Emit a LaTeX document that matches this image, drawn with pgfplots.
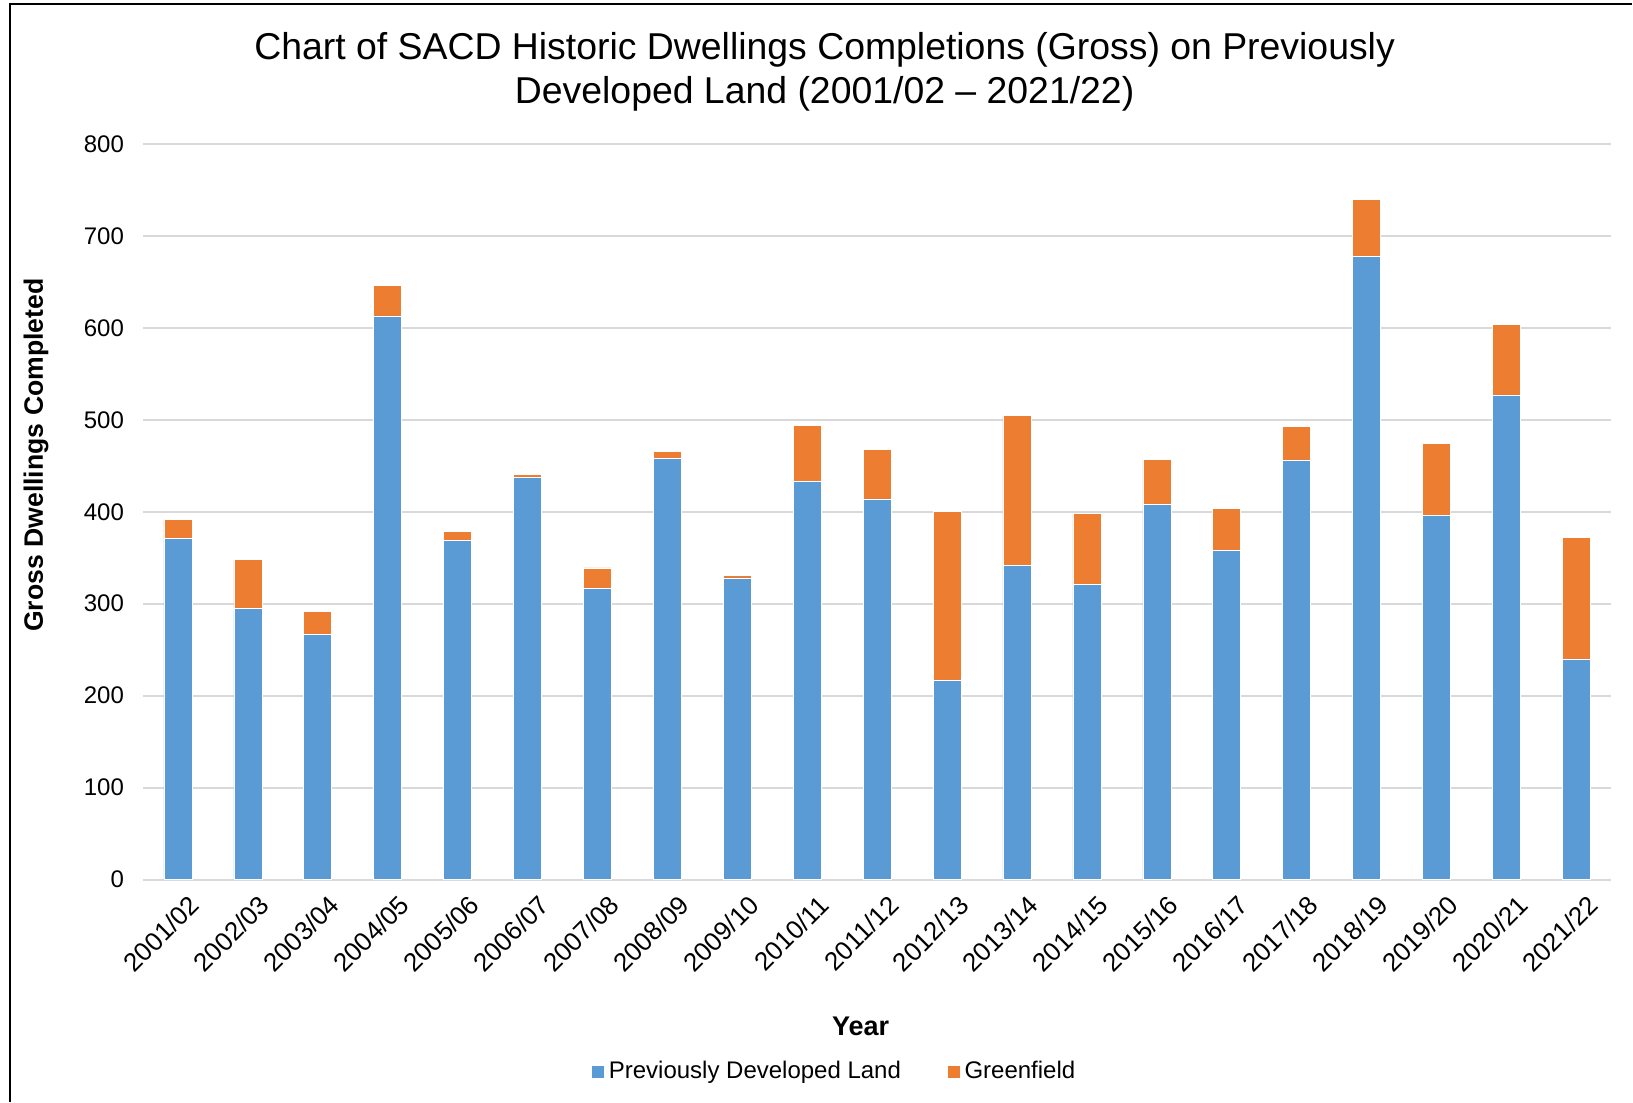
\documentclass[border=0pt]{standalone}
\usepackage{fontspec}
\setmainfont{Liberation Sans}
\usepackage{pgfplots}
\pgfplotsset{compat=1.18}
\definecolor{pdl}{HTML}{5B9BD5}
\definecolor{gf}{HTML}{ED7D31}
\definecolor{gridc}{HTML}{D9D9D9}
\begin{document}
\begin{tikzpicture}
\path (0pt,0pt) rectangle (816.5pt,551pt);
\draw[black, line width=0.7pt] (5pt,0pt) -- (5pt,549pt) -- (816.5pt,549pt);
\node[align=center, font=\fontsize{18.7}{22}\selectfont] at (412.5pt,515pt)
  {Chart of SACD Historic Dwellings Completions (Gross) on Previously\\Developed Land (2001/02 -- 2021/22)};
\begin{axis}[
  at={(71.5pt,111pt)}, anchor=south west,
  scale only axis, width=734.5pt, height=368pt,
  ybar stacked, bar width=14pt,
  xmin=-0.5, xmax=20.5, ymin=0, ymax=800,
  xtick={0,...,20},
  xticklabels={2001/02,2002/03,2003/04,2004/05,2005/06,2006/07,2007/08,2008/09,2009/10,2010/11,2011/12,2012/13,2013/14,2014/15,2015/16,2016/17,2017/18,2018/19,2019/20,2020/21,2021/22},
  ytick={0,100,...,800},
  ymajorgrids, grid style={gridc, line width=1pt},
  axis line style={draw=none},
  tick style={draw=none},
  /pgf/number format/assume math mode=true,
  yticklabel style={font=\fontsize{12}{14}\selectfont, xshift=-6pt},
  xticklabel style={font=\fontsize{13}{15}\selectfont, rotate=45, anchor=north east, xshift=2pt, yshift=-5pt},
  xlabel={Year},
  xlabel style={font=\fontsize{13.5}{15}\selectfont\bfseries, at={(axis description cs:0.4888,-0.1997)}, anchor=center},
  ylabel={Gross Dwellings Completed},
  ylabel style={font=\fontsize{13.3}{15}\selectfont\bfseries, at={(axis description cs:-0.0728,0.577)}, anchor=center},
  legend style={at={(axis description cs:0.4715,-0.261)}, anchor=center, draw=none,
    font=\fontsize{12}{14}\selectfont,
    /tikz/every even column/.append style={column sep=21pt}},
  legend columns=2,
  legend image code/.code={\fill[#1] (0pt,-3.25pt) rectangle (6.5pt,3.25pt);},
]
\addplot[fill=pdl, draw=white, line width=0.3pt] coordinates {
(0,371) (1,295) (2,267) (3,613) (4,369) (5,437) (6,317) (7,458) (8,328) (9,433) (10,414)
(11,217) (12,342) (13,321) (14,408) (15,358) (16,456) (17,678) (18,396) (19,527) (20,240)};
\addplot[fill=gf, draw=white, line width=0.3pt] coordinates {
(0,21) (1,53) (2,25) (3,33) (4,10) (5,4) (6,22) (7,8) (8,3) (9,61) (10,54)
(11,183) (12,163) (13,77) (14,49) (15,46) (16,37) (17,62) (18,78) (19,77) (20,132)};
\legend{Previously Developed Land, Greenfield}
\end{axis}
\end{tikzpicture}
\end{document}
